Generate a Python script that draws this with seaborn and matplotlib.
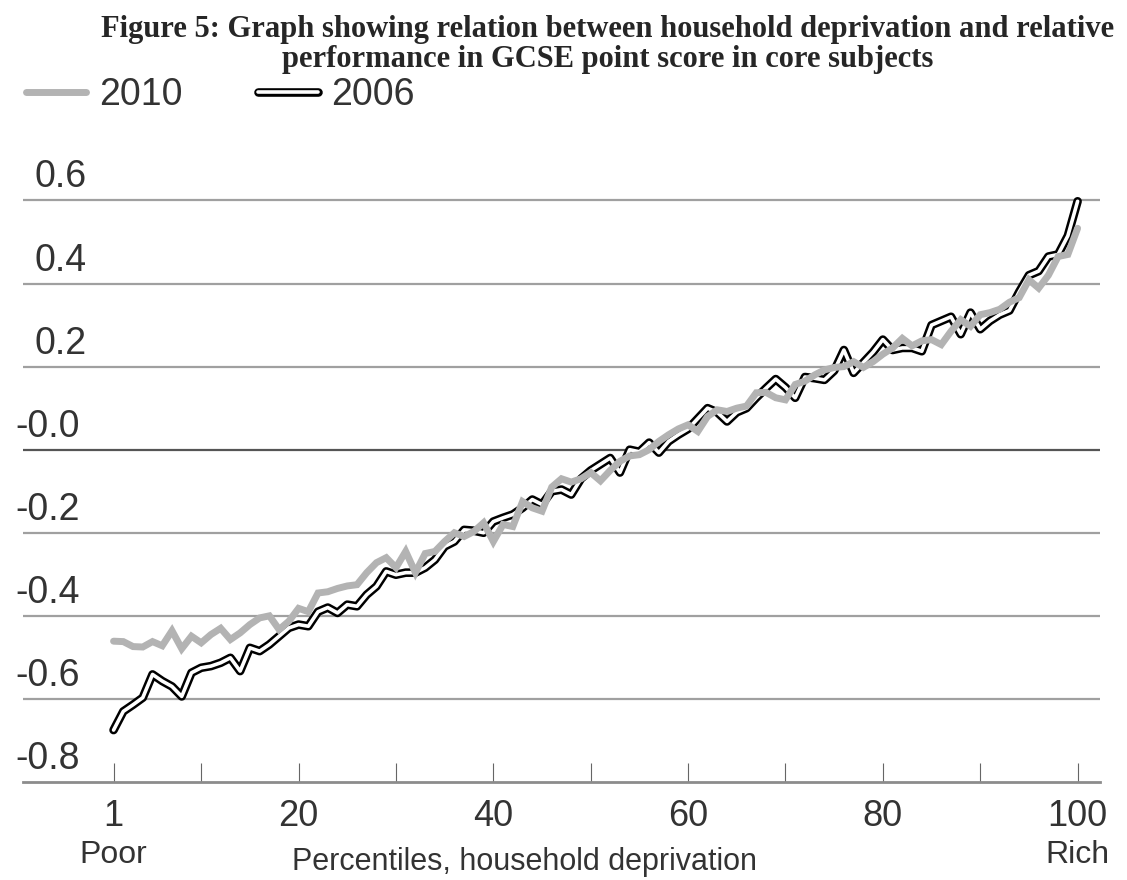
import matplotlib
matplotlib.use('Agg')
import matplotlib.pyplot as plt
import matplotlib.transforms as mtransforms
from matplotlib.lines import Line2D
import seaborn as sns

percentile = list(range(1, 101))

gcse_2010 = [
    -0.461, -0.462, -0.474, -0.475, -0.462, -0.472, -0.436, -0.479, -0.449, -0.465,
    -0.445, -0.430, -0.457, -0.441, -0.421, -0.405, -0.400, -0.433, -0.413, -0.382,
    -0.390, -0.345, -0.342, -0.334, -0.328, -0.325, -0.296, -0.272, -0.260, -0.284,
    -0.245, -0.296, -0.250, -0.245, -0.221, -0.200, -0.209, -0.197, -0.176, -0.221,
    -0.180, -0.185, -0.125, -0.140, -0.148, -0.090, -0.070, -0.078, -0.070, -0.055,
    -0.075, -0.050, -0.028, -0.015, -0.012, 0.000, 0.020, 0.036, 0.050, 0.060,
    0.044, 0.080, 0.096, 0.092, 0.100, 0.105, 0.137, 0.138, 0.125, 0.120,
    0.157, 0.165, 0.180, 0.192, 0.198, 0.200, 0.212, 0.198, 0.212, 0.230,
    0.245, 0.268, 0.250, 0.262, 0.265, 0.253, 0.285, 0.313, 0.297, 0.325,
    0.330, 0.338, 0.355, 0.366, 0.409, 0.389, 0.420, 0.465, 0.470, 0.533,
]

gcse_2006 = [
    -0.675, -0.630, -0.614, -0.597, -0.541, -0.557, -0.570, -0.594, -0.537, -0.525,
    -0.521, -0.513, -0.501, -0.533, -0.477, -0.485, -0.469, -0.449, -0.429, -0.421,
    -0.425, -0.390, -0.380, -0.393, -0.373, -0.377, -0.349, -0.329, -0.293, -0.301,
    -0.296, -0.296, -0.284, -0.265, -0.233, -0.221, -0.193, -0.195, -0.200, -0.173,
    -0.164, -0.156, -0.140, -0.120, -0.132, -0.100, -0.096, -0.108, -0.070, -0.050,
    -0.035, -0.020, -0.055, 0.000, -0.005, 0.017, -0.007, 0.020, 0.036, 0.050,
    0.075, 0.100, 0.090, 0.068, 0.090, 0.100, 0.125, 0.148, 0.170, 0.150,
    0.125, 0.175, 0.172, 0.168, 0.190, 0.240, 0.185, 0.210, 0.235, 0.265,
    0.240, 0.245, 0.245, 0.237, 0.300, 0.310, 0.320, 0.278, 0.330, 0.290,
    0.310, 0.325, 0.335, 0.380, 0.420, 0.430, 0.465, 0.470, 0.515, 0.598,
]

y_ticks = [0.6, 0.4, 0.2, 0.0, -0.2, -0.4, -0.6, -0.8]
y_labels = ['0.6', '0.4', '0.2', '-0.0', '-0.2', '-0.4', '-0.6', '-0.8']
x_major = [1, 20, 40, 60, 80, 100]
x_major_labels = ['1', '20', '40', '60', '80', '100']
x_minor = [10, 30, 50, 70, 90]

text_col = '#333333'
gray_col = '#b3b3b3'

sns.set_theme(style='white')
plt.rcParams['font.family'] = ['Liberation Sans', 'DejaVu Sans']

fig = plt.figure(figsize=(11.27, 8.8), dpi=100)
ax = fig.add_axes([23 / 1127, 1 - 782 / 880, 1077 / 1127, 594 / 880])

# 2006 is drawn as a black outline with a white core, 2010 on top in grey
sns.lineplot(x=percentile, y=gcse_2006, color='black', lw=6.2, ax=ax, zorder=3,
             solid_capstyle='round', solid_joinstyle='round')
sns.lineplot(x=percentile, y=gcse_2006, color='white', lw=2.6, ax=ax, zorder=4,
             solid_capstyle='round', solid_joinstyle='round')
sns.lineplot(x=percentile, y=gcse_2010, color=gray_col, lw=5.0, ax=ax, zorder=5,
             solid_joinstyle='miter')

for v in y_ticks[:-1]:
    ax.axhline(v, color='#555555' if v == 0 else '#a0a0a0', lw=1.6, zorder=1)

ax.set_xlim(-8.3, 102.3)
ax.set_ylim(-0.8, 0.63)

for s in ['top', 'right', 'left']:
    ax.spines[s].set_visible(False)
ax.spines['bottom'].set_color('#8c8c8c')
ax.spines['bottom'].set_linewidth(2)

ax.set_yticks([])
ax.set_xticks(x_major)
ax.set_xticklabels(x_major_labels)
ax.set_xticks(x_minor, minor=True)
ax.tick_params(axis='x', which='both', direction='in', length=14, width=0.8,
               color='#666666', bottom=True, labelsize=26, pad=12, labelcolor=text_col)

# y labels sit above their gridlines, left aligned
ylab_tr = ax.get_yaxis_transform() + mtransforms.ScaledTranslation(0, 23 / 100, fig.dpi_scale_trans)
for v, lab in zip(y_ticks, y_labels):
    xpos = -8 / 1077 if lab.startswith('-') else 12 / 1077
    ax.text(xpos, v, lab, transform=ylab_tr, ha='left', va='center',
            fontsize=27, color=text_col)

x_tr = ax.get_xaxis_transform()
ax.text(1, -0.123, 'Poor', transform=x_tr, ha='center', va='center',
        fontsize=23, color=text_col)
ax.text(100, -0.123, 'Rich', transform=x_tr, ha='center', va='center',
        fontsize=23, color=text_col)
ax.set_xlabel('Percentiles, household deprivation', fontsize=22, color=text_col)
ax.xaxis.set_label_coords(0.466, -0.135)
ax.xaxis.label.set_verticalalignment('center')

handles = [Line2D([], [], color=gray_col, lw=5.0),
           (Line2D([], [], color='black', lw=6.2), Line2D([], [], color='white', lw=2.6))]
leg = fig.legend(handles, ['2010', '2006'], loc='center left',
                 bbox_to_anchor=(26 / 1127, 1 - 95 / 880), ncol=2, frameon=False,
                 fontsize=27, handlelength=1.6, handletextpad=0.35, columnspacing=2.0,
                 borderpad=0, borderaxespad=0)
for t in leg.get_texts():
    t.set_color(text_col)

fig.text(608 / 1127, 1 - 30 / 880,
         'Figure 5: Graph showing relation between household deprivation and relative',
         ha='center', va='center', fontsize=22, fontweight='bold', family='Liberation Serif')
fig.text(608 / 1127, 1 - 60 / 880,
         'performance in GCSE point score in core subjects',
         ha='center', va='center', fontsize=22, fontweight='bold', family='Liberation Serif')

fig.savefig('out.png', dpi=100)
